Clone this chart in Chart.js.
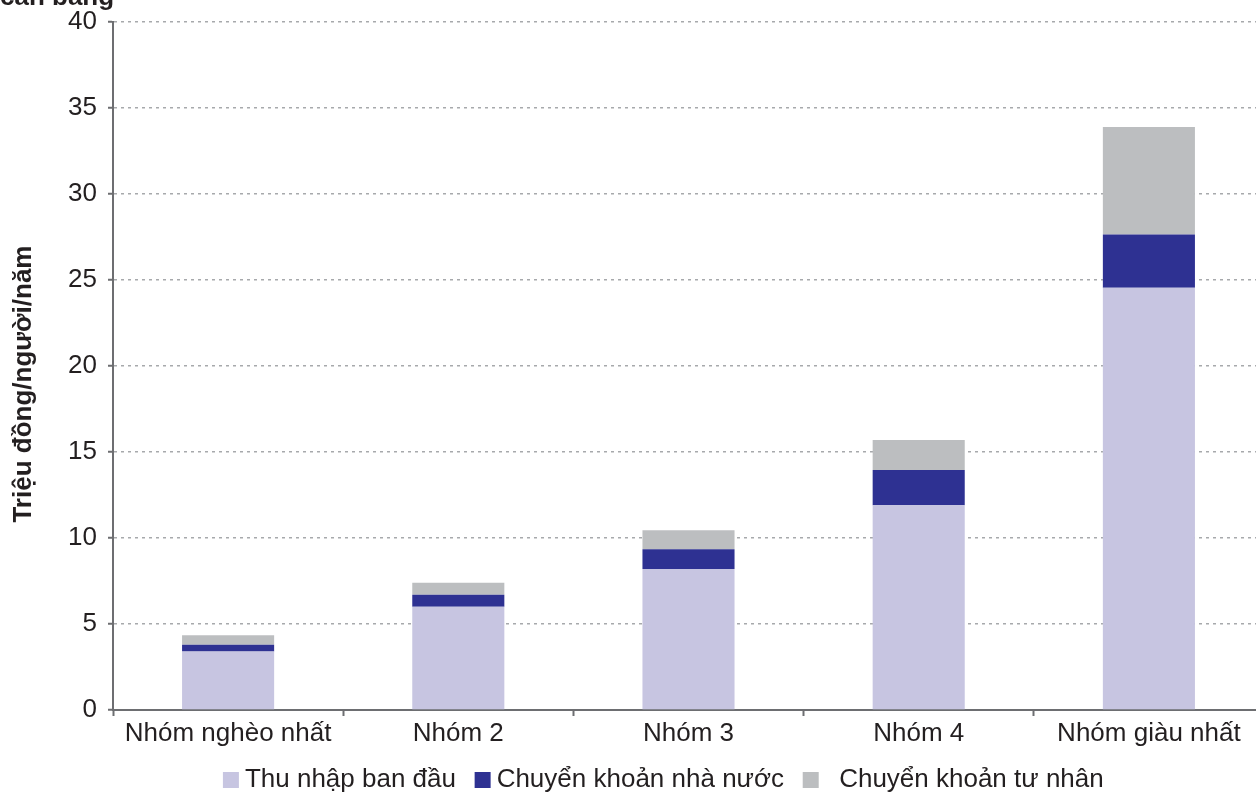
<!DOCTYPE html>
<html>
<head>
<meta charset="utf-8">
<script src="https://cdn.jsdelivr.net/npm/chart.js@4.4.1/dist/chart.umd.min.js"></script>
<style>
  html, body { margin: 0; padding: 0; background: #fff; overflow: hidden; }
  #wrap { position: relative; width: 1264px; height: 795px; }
  #cut {
    position: absolute; left: 0; top: -17px;
    font: bold 26px "Liberation Sans", Arial, sans-serif; color: #231f20;
    white-space: nowrap; line-height: 26px;
  }
</style>
</head>
<body>
<div id="wrap">
  <canvas id="chart"></canvas>
  <div id="cut">cân bằng</div>
</div>
<script>
// nhóm thu nhập
var categories = ["Nhóm nghèo nhất", "Nhóm 2", "Nhóm 3", "Nhóm 4", "Nhóm giàu nhất"];

// triệu đồng/người/năm
var thu_nhap_ban_dau = [3.4, 6.0, 8.2, 11.9, 24.55];
var chuyen_khoan_nha_nuoc = [0.4, 0.7, 1.15, 2.05, 3.1];
var chuyen_khoan_tu_nhan = [0.55, 0.7, 1.1, 1.75, 6.25];

// khoảng trắng giữ khoảng cách chú giải như bản gốc
var series_names = [
    "Thu nhập ban đầu  \u2009",
    "Chuyển khoản nhà nước  \u2009",
    "  Chuyển khoản tư nhân      "
];
var y_ticks = [0, 5, 10, 15, 20, 25, 30, 35, 40];

var FONT = '"Liberation Sans", Arial, Helvetica, sans-serif';
var TEXT = '#231f20';
var AXIS = '#6d6e71';

function make_dataset(label, data, color) {
    return {
        label: label,
        data: data,
        backgroundColor: color,
        borderWidth: 0,
        pointStyle: 'rect',
        barPercentage: 0.8,
        categoryPercentage: 0.5
    };
}

var ctx = document.getElementById('chart').getContext('2d');
var chart = new Chart(ctx, {
    type: 'bar',
    data: {
        labels: categories,
        datasets: [
            make_dataset(series_names[0], thu_nhap_ban_dau, '#c7c5e1'),
            make_dataset(series_names[1], chuyen_khoan_nha_nuoc, '#2e3192'),
            make_dataset(series_names[2], chuyen_khoan_tu_nhan, '#bcbec0')
        ]
    },
    options: {
        responsive: true,
        maintainAspectRatio: false,
        animation: false,
        layout: { padding: { top: 22, left: 0, right: 0, bottom: -8 } },
        plugins: {
            tooltip: { enabled: false },
            legend: {
                position: 'bottom',
                fullSize: false,
                labels: {
                    usePointStyle: true,
                    boxWidth: 2,
                    boxHeight: 16,
                    padding: 6,
                    color: TEXT,
                    font: { family: FONT, size: 26 }
                }
            }
        },
        scales: {
            x: {
                stacked: true,
                grid: {
                    display: true,
                    drawOnChartArea: false,
                    drawTicks: true,
                    tickLength: 6,
                    tickColor: AXIS,
                    tickWidth: 2
                },
                border: { display: true, color: AXIS, width: 2 },
                ticks: {
                    color: TEXT,
                    padding: 2,
                    maxRotation: 0,
                    autoSkip: false,
                    font: { family: FONT, size: 26 }
                },
                afterFit: function(scale) { scale.height = 51; }
            },
            y: {
                stacked: true,
                min: 0,
                max: 40,
                afterBuildTicks: function(scale) {
                    scale.ticks = y_ticks.map(function(v) { return { value: v }; });
                },
                grid: {
                    color: '#a7a9ac',
                    lineWidth: 1.5,
                    tickLength: 5,
                    tickColor: AXIS,
                    tickWidth: 2
                },
                border: { display: true, color: AXIS, width: 2, dash: [3, 4] },
                ticks: {
                    color: TEXT,
                    padding: 11,
                    font: { family: FONT, size: 26 }
                },
                title: {
                    display: true,
                    text: 'Triệu đồng/người/năm     ',
                    color: TEXT,
                    padding: { top: 8, bottom: 0 },
                    font: { family: FONT, size: 26, weight: 'bold' }
                },
                afterFit: function(scale) {
                    scale.width = 113;
                    scale.paddingTop = 0;
                    scale.paddingBottom = 0;
                }
            }
        }
    }
});
</script>
</body>
</html>
